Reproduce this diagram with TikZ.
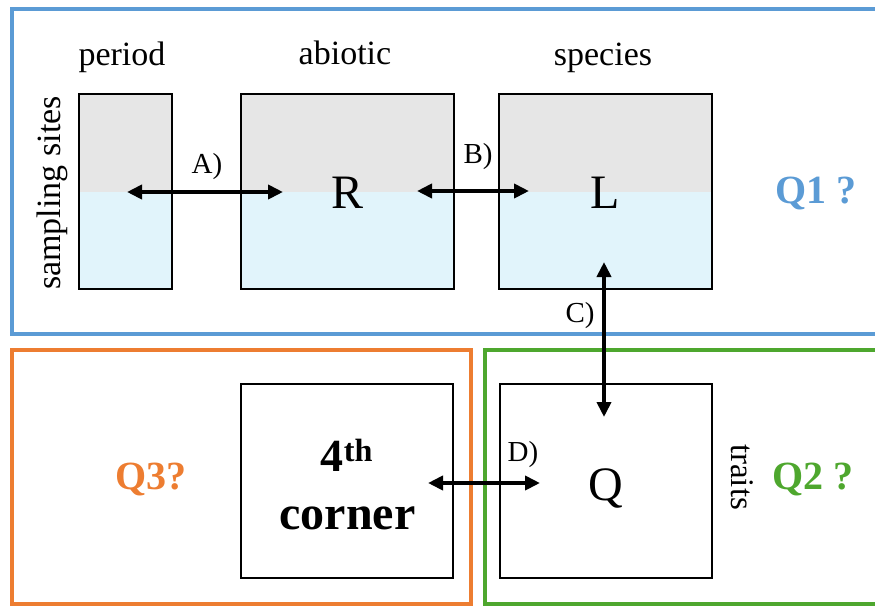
\documentclass[tikz,border=0pt]{standalone}
\usepackage{fontspec}
\setmainfont{Liberation Serif}
\newfontfamily\tms{Liberation Serif}
\usetikzlibrary{arrows.meta}
\definecolor{qblue}{HTML}{5B9BD5}
\definecolor{qorange}{HTML}{ED7D31}
\definecolor{qgreen}{HTML}{4EA72E}
\definecolor{topgray}{HTML}{E6E6E6}
\definecolor{lowblue}{HTML}{E1F4FB}
\tikzset{
  frame/.style={line width=4pt},
  matbox/.style={draw, line width=2pt, inner sep=0pt, minimum height=195pt, fill=topgray,
    path picture={\fill[lowblue] (path picture bounding box.west) rectangle (path picture bounding box.south east);}},
  plainbox/.style={draw, line width=2pt, inner sep=0pt, minimum height=194pt, minimum width=212pt},
  head/.style={font=\tms\fontsize{34}{40}\selectfont, inner sep=0pt, anchor=base},
  letter/.style={font=\tms\fontsize{48}{56}\selectfont, inner sep=0pt, anchor=base},
  tag/.style={font=\tms\fontsize{29}{34}\selectfont, inner sep=0pt, anchor=base},
  qlabel/.style={font=\tms\fontsize{40}{46}\selectfont\bfseries, inner sep=0pt, anchor=base},
  link/.style={line width=4pt, {Triangle[length=15pt,width=14pt]}-{Triangle[length=15pt,width=14pt]}}
}
\begin{document}
\begin{tikzpicture}[x=1pt,y=-1pt]
\useasboundingbox (0,0) rectangle (875,606);
\clip (0,0) rectangle (875,606);
% frames
\draw[frame, qblue] (11.5,9) rectangle (900,334);
\draw[frame, qorange] (11.5,349.5) rectangle (471,604);
\draw[frame, qgreen] (485,349.5) rectangle (900,604);
% boxes
\node[matbox, minimum width=93pt] (period) at (125.5,191.5) {};
\node[matbox, minimum width=213pt] (abiotic) at (347.5,191.5) {};
\node[matbox, minimum width=213pt] (species) at (605.5,191.5) {};
\node[plainbox] (corner) at (347,481) {};
\node[plainbox] (traitbox) at (606,481) {};
% headers
\node[head] (hperiod) at (122,65) {period};
\node[head] (habiotic) at (345,64) {abiotic};
\node[head] (hspecies) at (603,65) {species};
\node[font=\tms\fontsize{34}{40}\selectfont, inner sep=0pt, rotate=90] (hsites) at (52,193) {sampling sites};
\node[font=\tms\fontsize{33}{40}\selectfont, inner sep=0pt, rotate=-90] (htraits) at (742,477) {traits};
% matrix letters
\node[letter] (R) at (348,208) {R};
\node[letter] (L) at (605,208) {L};
\node[letter] (Q) at (606,500) {Q};
\node[font=\tms\fontsize{46}{52}\selectfont\bfseries, inner sep=0pt, anchor=base] (fourth) at (347,471) {4\textsuperscript{th}};
\node[font=\tms\fontsize{48}{56}\selectfont\bfseries, inner sep=0pt, anchor=base] (cornertxt) at (347.5,529) {corner};
% questions
\node[qlabel, text=qblue] (q1) at (816,203) {Q1 ?};
\node[qlabel, text=qorange] (q3) at (151,489) {Q3?};
\node[qlabel, text=qgreen] (q2) at (813,489) {Q2 ?};
% arrow end points
\coordinate (a1) at (127,192);
\coordinate (a2) at (283,192);
\coordinate (b1) at (417,191);
\coordinate (b2) at (529,191);
\coordinate (c1) at (604,262);
\coordinate (c2) at (604,417);
\coordinate (d1) at (428,483);
\coordinate (d2) at (540,483);
\draw[link] (a1) -- (a2);
\draw[link] (b1) -- (b2);
\draw[link] (c1) -- (c2);
\draw[link] (d1) -- (d2);
% arrow labels
\node[tag] (la) at (207,173) {A)};
\node[tag] (lb) at (478,163) {B)};
\node[tag] (lc) at (580,322) {C)};
\node[tag] (ld) at (523,461) {D)};
\end{tikzpicture}
\end{document}
